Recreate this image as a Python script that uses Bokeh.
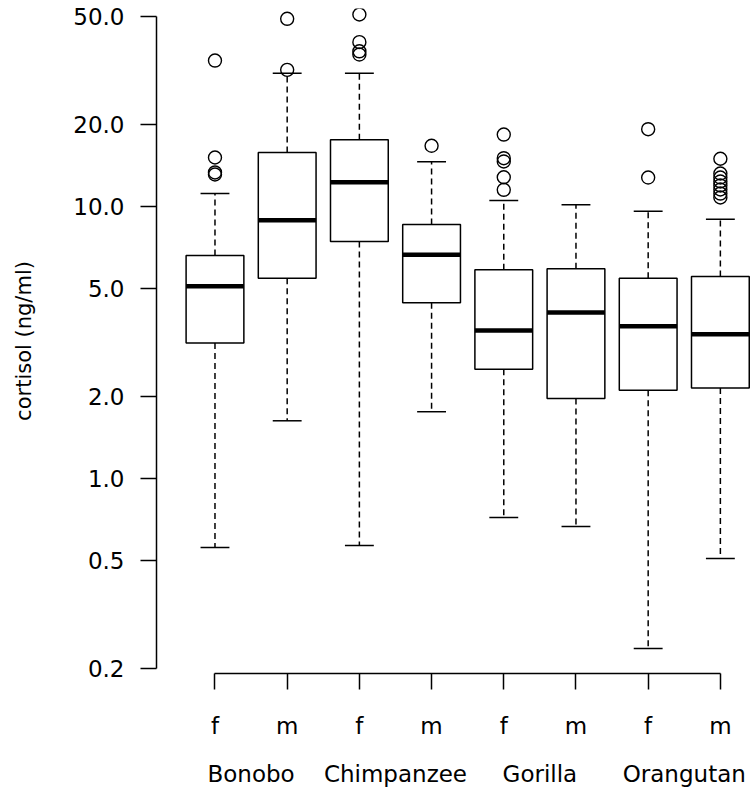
import numpy as np
from bokeh.plotting import figure
from bokeh.models import FixedTicker, PrintfTickFormatter, LinearAxis, ColumnDataSource
from bokeh.embed import file_html
from bokeh.resources import INLINE

species = ["Bonobo", "Chimpanzee", "Gorilla", "Orangutan"]
sexes = ["f", "m"]

lower = [0.557, 1.63, 0.567, 1.76, 0.719, 0.666, 0.237, 0.508]
q1 = [3.15, 5.45, 7.43, 4.43, 2.52, 1.97, 2.11, 2.15]
median = [5.09, 8.91, 12.29, 6.64, 3.50, 4.08, 3.63, 3.39]
q3 = [6.61, 15.8, 17.59, 8.59, 5.85, 5.90, 5.45, 5.53]
upper = [11.16, 30.9, 30.9, 14.6, 10.52, 10.15, 9.61, 8.98]
outliers = [
    [34.4, 15.14, 13.34, 13.11],
    [48.98, 31.8],
    [50.8, 40.2, 37.2, 36.2],
    [16.72],
    [18.39, 15.05, 14.64, 12.81, 11.52],
    [],
    [19.24, 12.78],
    [14.98, 13.22, 12.78, 12.36, 11.95, 11.55, 11.16, 10.79],
]
y_ticks = [0.2, 0.5, 1, 2, 5, 10, 20, 50]
y_label = "cortisol (ng/ml)"

FONT = "DejaVu Sans"
FSIZE = "23px"

n = len(median)
xs = np.arange(1, n + 1, dtype=float)
half = 0.4
cap = 0.2

src = ColumnDataSource(dict(
    x=xs, left=xs - half, right=xs + half, cl=xs - cap, cr=xs + cap,
    lower=lower, q1=q1, median=median, q3=q3, upper=upper,
))

ox, oy = [], []
for i, vals in enumerate(outliers):
    for v in vals:
        ox.append(xs[i])
        oy.append(v)

p = figure(width=755, height=792, y_axis_type="log",
           x_range=(0.19, 8.445), y_range=(0.1919, 53.45),
           output_backend="svg", toolbar_location=None,
           min_border_left=156, min_border_right=3, min_border_top=8,
           min_border_bottom=119)
p.grid.visible = False
p.outline_line_color = None
p.background_fill_color = "white"
p.border_fill_color = "white"

LW = 1.5
# whiskers
p.segment(x0="x", y0="q3", x1="x", y1="upper", source=src, line_color="black",
          line_width=LW, line_dash="6 4")
p.segment(x0="x", y0="q1", x1="x", y1="lower", source=src, line_color="black",
          line_width=LW, line_dash="6 4")
# caps
p.segment(x0="cl", y0="upper", x1="cr", y1="upper", source=src, line_color="black", line_width=LW)
p.segment(x0="cl", y0="lower", x1="cr", y1="lower", source=src, line_color="black", line_width=LW)
# boxes
p.quad(left="left", right="right", bottom="q1", top="q3", source=src,
       fill_color="white", line_color="black", line_width=LW)
# medians
p.segment(x0="left", y0="median", x1="right", y1="median", source=src,
          line_color="black", line_width=4.5, line_cap="butt")
# outliers
p.scatter(ox, oy, marker="circle", size=13, fill_color=None, line_color="black", line_width=1.4)

# y axis
ya = p.yaxis[0]
ya.ticker = FixedTicker(ticks=y_ticks)
ya.formatter = PrintfTickFormatter(format="%.1f")
ya.bounds = (min(y_ticks), max(y_ticks))
ya.major_tick_out = 16
ya.major_tick_in = 0
ya.minor_tick_line_color = None
ya.major_label_standoff = 16
ya.axis_line_width = LW
ya.axis_line_color = "black"
ya.major_tick_line_width = LW
ya.major_tick_line_color = "black"
ya.major_label_text_font = FONT
ya.major_label_text_font_size = FSIZE
ya.major_label_text_color = "black"
ya.axis_label = y_label
ya.axis_label_text_font = FONT
ya.axis_label_text_font_size = "21px"
ya.axis_label_text_font_style = "normal"
ya.axis_label_text_color = "black"
ya.axis_label_standoff = 34

# x axis (sex)
labels_sex = {}
for i in range(n):
    labels_sex[i + 1] = sexes[i % 2]
xa = p.xaxis[0]
xa.ticker = FixedTicker(ticks=list(range(1, n + 1)))
xa.major_label_overrides = labels_sex
xa.bounds = (1, n)
xa.major_tick_out = 16
xa.major_tick_in = 0
xa.minor_tick_line_color = None
xa.major_label_standoff = 23
xa.axis_line_width = LW
xa.axis_line_color = "black"
xa.major_tick_line_width = LW
xa.major_tick_line_color = "black"
xa.major_label_text_font = FONT
xa.major_label_text_font_size = FSIZE
xa.major_label_text_color = "black"

# x axis (species)
grp_ticks = [2 * k + 1.5 for k in range(len(species))]
xa2 = LinearAxis(ticker=FixedTicker(ticks=grp_ticks),
                 major_label_overrides={t: s for t, s in zip(grp_ticks, species)})
xa2.axis_line_color = None
xa2.major_tick_line_color = None
xa2.minor_tick_line_color = None
xa2.major_tick_out = 0
xa2.major_tick_in = 0
xa2.major_label_standoff = 19
xa2.major_label_text_font = FONT
xa2.major_label_text_font_size = FSIZE
xa2.major_label_text_color = "black"
p.add_layout(xa2, "below")

open("out.html", "w").write(file_html(p, INLINE))
